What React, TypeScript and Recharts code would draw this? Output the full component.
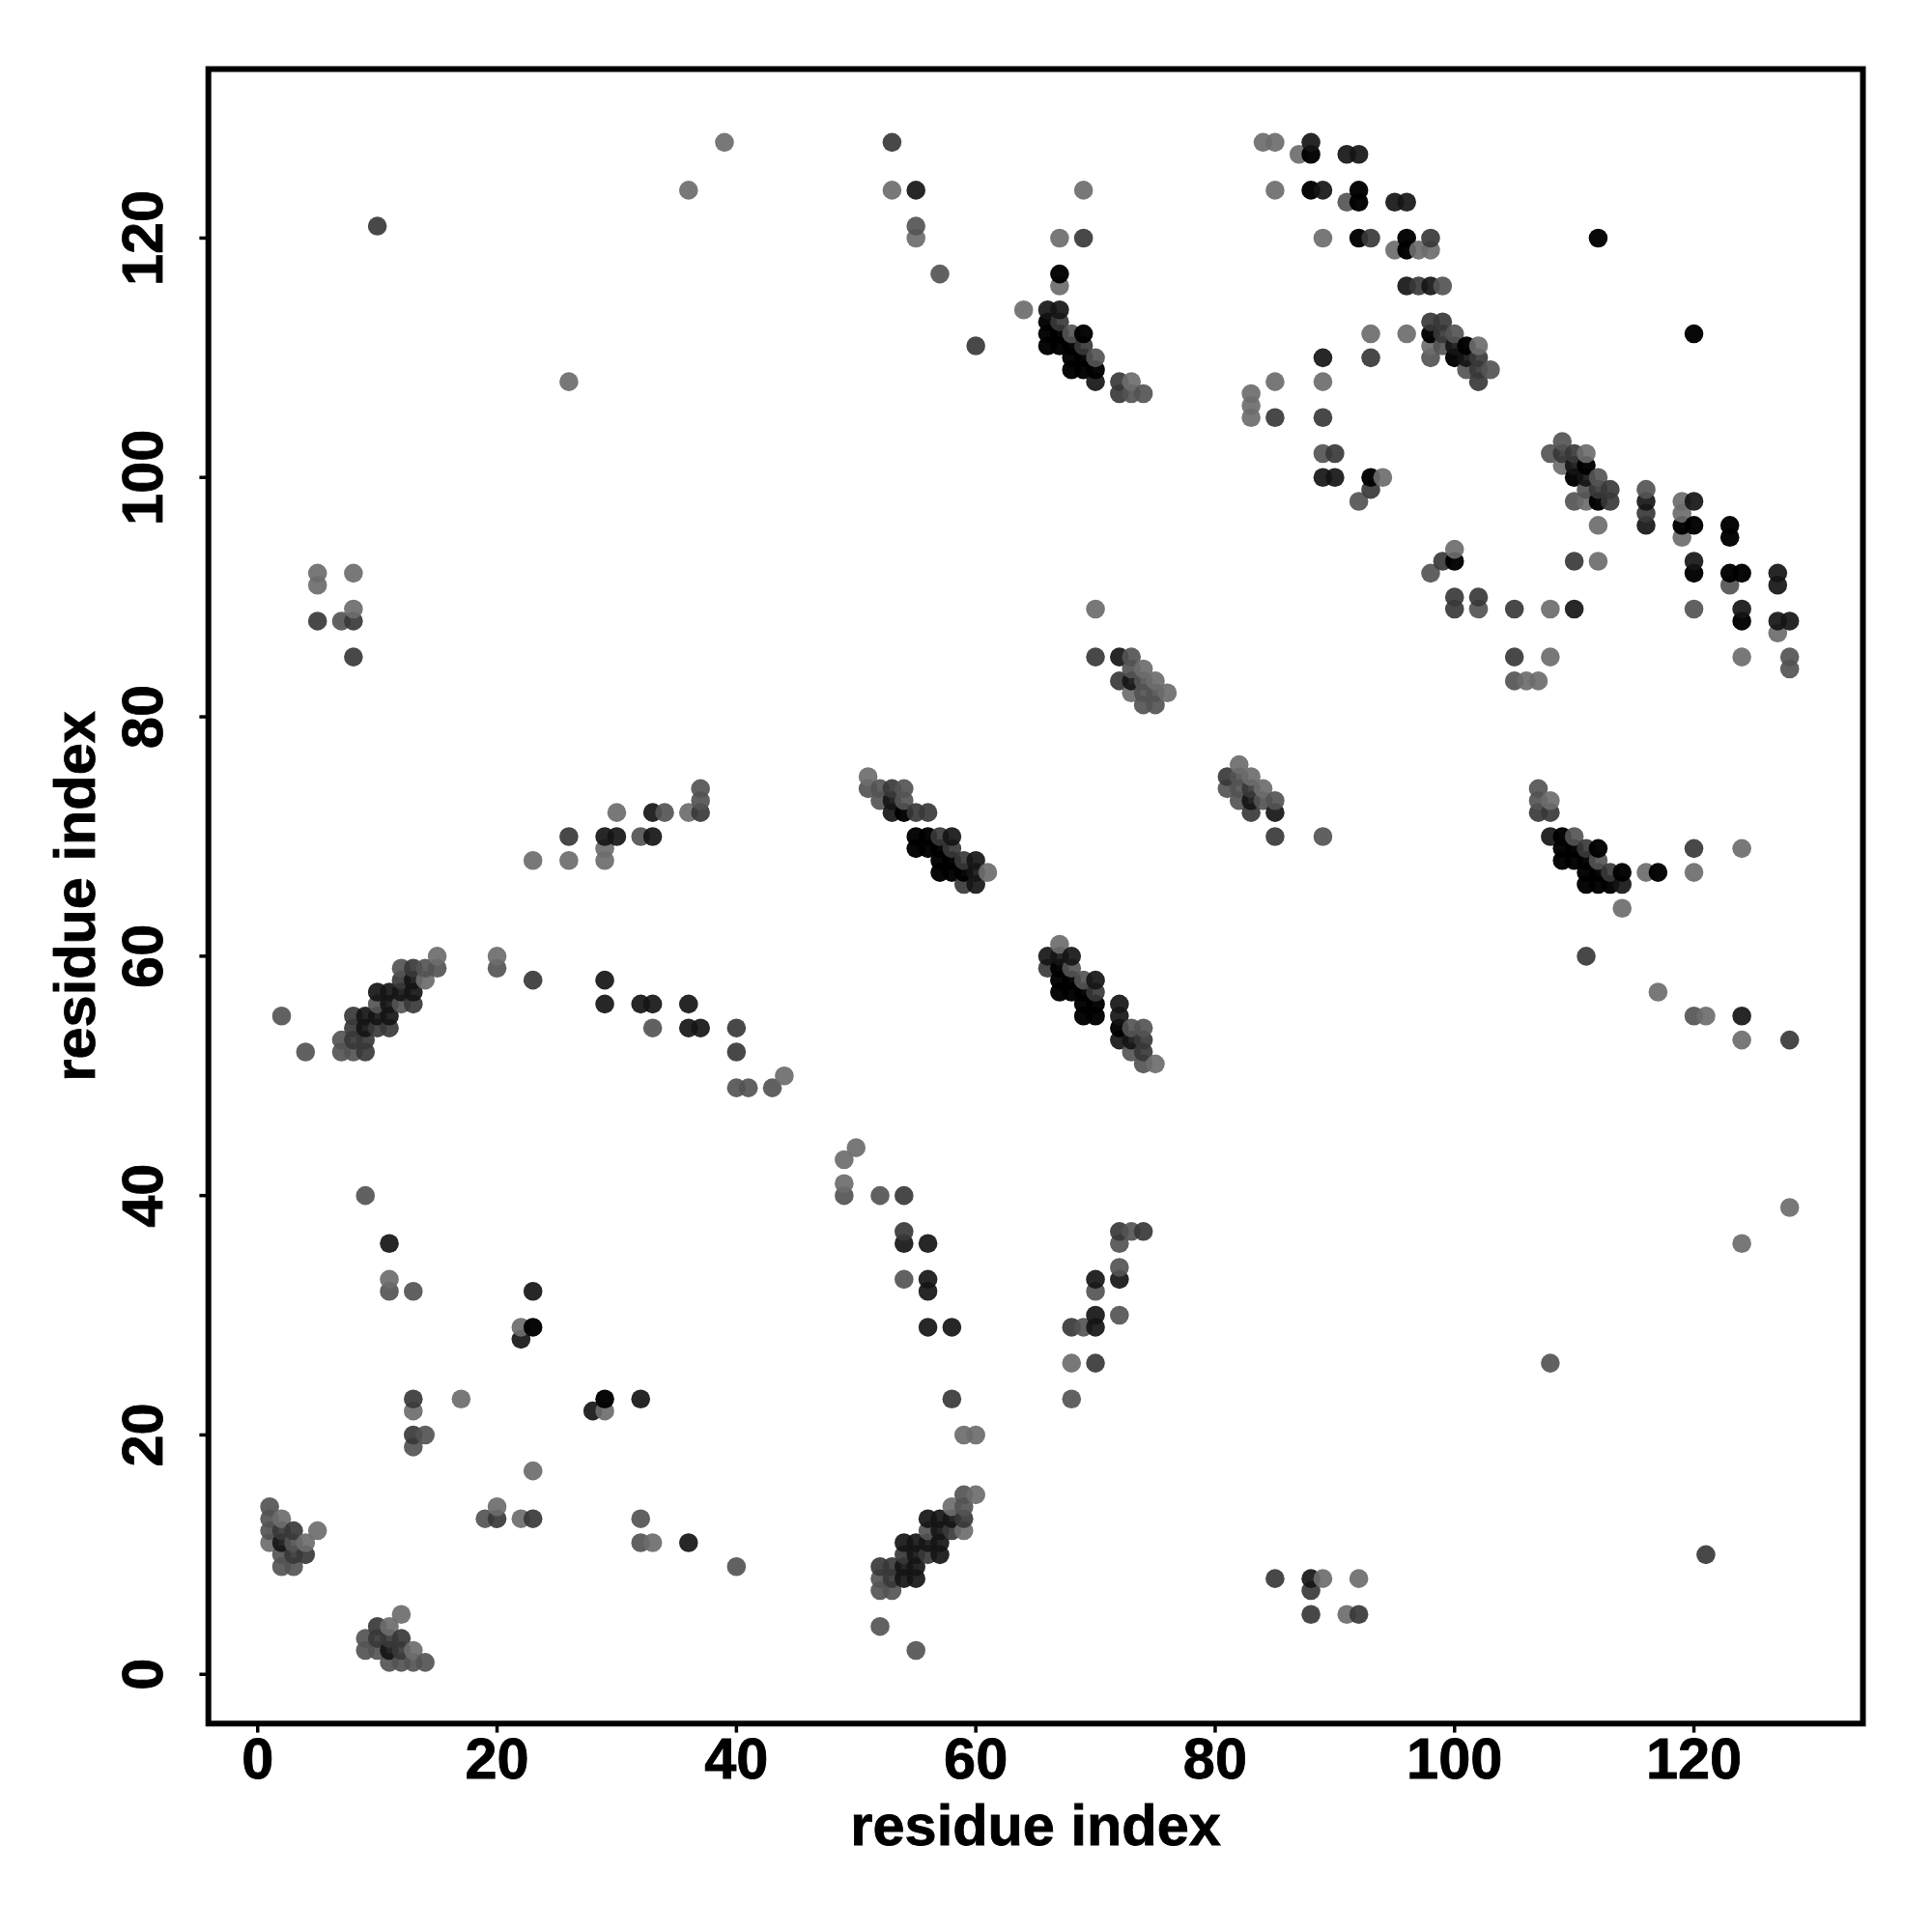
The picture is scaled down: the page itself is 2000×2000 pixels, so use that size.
import { ReferenceArea, Scatter, ScatterChart, XAxis, YAxis, ZAxis } from 'recharts';

type Pair = [number, number];

const axisTicks = [0, 20, 40, 60, 80, 100, 120];
const axisDomain: [number, number] = [-4.12, 134.12];
const axisTitle = 'residue index';
const font = '"Liberation Sans", Arial, sans-serif';

// contacts by how dark the dot is: [x residue, y residue]
const lightContacts: Pair[] = [
  [2, 13], [1, 11], [4, 11], [5, 12], [11, 4], [12, 5], [13, 2], [11, 33], [13, 22], [17, 23], [22, 29], [29, 22],
  [23, 17], [20, 14], [22, 13], [33, 11], [59, 20], [60, 20], [68, 26], [58, 14], [60, 15], [59, 12], [124, 36],
  [128, 39], [89, 8], [92, 8], [91, 5], [49, 43], [50, 44], [49, 41], [14, 58], [15, 60], [20, 60], [44, 50],
  [117, 57], [121, 55], [124, 53], [23, 68], [26, 68], [29, 69], [29, 68], [30, 72], [36, 72], [51, 75], [61, 67],
  [67, 116], [64, 114], [73, 108], [67, 61], [75, 51], [108, 73], [116, 67], [120, 67], [114, 64], [124, 69],
  [87, 127], [89, 120], [95, 119], [97, 119], [98, 119], [93, 112], [96, 112], [98, 111], [102, 111], [89, 108],
  [111, 102], [109, 101], [111, 98], [112, 96], [112, 93], [119, 98], [119, 97], [119, 95], [127, 87], [124, 85],
  [100, 94], [108, 89], [108, 85], [106, 83], [107, 83], [94, 100], [83, 107], [83, 106], [83, 105], [85, 108],
  [84, 128], [85, 128], [85, 124], [69, 124], [53, 124], [55, 120], [39, 128], [36, 124], [26, 108], [67, 120],
  [5, 92], [5, 91], [8, 92], [8, 89], [70, 89], [82, 76], [83, 75], [84, 74], [74, 84], [75, 83], [73, 82], [76, 82],
];
const midContacts: Pair[] = [
  [1, 14], [1, 13], [1, 12], [2, 10], [2, 9], [3, 11], [3, 9], [9, 3], [9, 2], [10, 2], [11, 1], [12, 1], [13, 1],
  [14, 1], [11, 32], [13, 32], [14, 20], [13, 19], [19, 13], [32, 13], [32, 11], [40, 9], [9, 40], [49, 40], [52, 40],
  [54, 33], [52, 4], [55, 2], [68, 23], [59, 15], [59, 14], [56, 12], [52, 8], [52, 7], [53, 7], [69, 29], [70, 32],
  [72, 34], [72, 36], [73, 37], [72, 30], [108, 26], [4, 52], [7, 53], [7, 52], [8, 52], [10, 56], [12, 56], [12, 59],
  [14, 59], [15, 59], [2, 55], [20, 59], [33, 54], [40, 49], [41, 49], [43, 49], [120, 55], [32, 70], [34, 72],
  [37, 73], [37, 74], [51, 74], [52, 74], [54, 74], [52, 73], [54, 73], [68, 112], [70, 110], [73, 107], [74, 107],
  [68, 59], [69, 58], [73, 54], [74, 54], [73, 52], [74, 51], [107, 74], [107, 73], [110, 70], [112, 68], [81, 74],
  [82, 75], [82, 74], [82, 73], [84, 73], [85, 73], [89, 70], [128, 85], [128, 84], [120, 89], [91, 123], [99, 116],
  [100, 112], [99, 111], [98, 110], [101, 109], [103, 109], [109, 103], [108, 102], [112, 100], [111, 99], [110, 98],
  [116, 99], [123, 91], [98, 92], [102, 89], [105, 83], [92, 98], [89, 102], [73, 85], [73, 84], [74, 83], [74, 82],
  [75, 82], [74, 81], [75, 81], [55, 121], [57, 117], [7, 88],
];
const darkContacts: Pair[] = [
  [2, 12], [3, 12], [3, 10], [4, 10], [10, 4], [10, 3], [11, 3], [12, 3], [12, 2], [13, 23], [13, 20], [20, 13],
  [23, 13], [121, 10], [85, 8], [88, 7], [88, 5], [92, 5], [54, 40], [54, 37], [58, 23], [70, 26], [58, 12], [56, 10],
  [54, 10], [53, 8], [53, 9], [52, 9], [59, 13], [68, 29], [72, 37], [74, 37], [8, 53], [9, 53], [9, 52], [8, 54],
  [8, 55], [10, 54], [11, 54], [13, 56], [12, 58], [13, 59], [23, 58], [40, 54], [40, 52], [111, 60], [128, 53],
  [26, 70], [37, 72], [53, 74], [55, 72], [56, 72], [57, 70], [58, 69], [59, 68], [59, 66], [67, 113], [69, 111],
  [72, 108], [72, 107], [66, 59], [70, 57], [74, 53], [74, 52], [107, 72], [108, 72], [111, 69], [113, 67], [120, 69],
  [81, 75], [83, 74], [83, 72], [85, 70], [98, 120], [93, 120], [97, 116], [98, 113], [99, 113], [99, 112], [93, 110],
  [102, 110], [102, 109], [102, 108], [109, 102], [110, 102], [112, 99], [113, 99], [113, 98], [116, 97], [110, 93],
  [99, 93], [100, 90], [100, 89], [102, 90], [105, 89], [105, 85], [90, 102], [89, 105], [93, 99], [85, 105],
  [53, 128], [10, 121], [60, 111], [69, 120], [5, 88], [8, 88], [8, 85], [70, 85], [72, 83],
];
const strongContacts: Pair[] = [
  [2, 11], [11, 2], [23, 32], [22, 28], [28, 22], [32, 23], [36, 11], [11, 36], [54, 36], [56, 36], [56, 33], [56, 32],
  [56, 29], [58, 29], [56, 13], [57, 13], [58, 13], [57, 12], [57, 11], [56, 11], [57, 10], [55, 11], [54, 11],
  [55, 10], [55, 9], [54, 9], [55, 8], [54, 8], [70, 29], [70, 30], [70, 33], [72, 33], [88, 8], [9, 54], [9, 55],
  [10, 55], [11, 55], [11, 56], [10, 57], [11, 57], [12, 57], [13, 57], [13, 58], [29, 58], [29, 56], [32, 56],
  [33, 56], [36, 56], [36, 54], [37, 54], [124, 55], [29, 70], [30, 70], [33, 70], [33, 72], [53, 73], [53, 72],
  [58, 70], [60, 68], [60, 67], [60, 66], [66, 114], [67, 114], [70, 108], [66, 60], [67, 60], [68, 60], [70, 58],
  [72, 56], [72, 55], [72, 53], [73, 53], [108, 70], [114, 66], [83, 73], [85, 72], [88, 128], [91, 127], [92, 127],
  [89, 124], [95, 123], [96, 123], [96, 116], [98, 116], [100, 111], [101, 110], [89, 110], [111, 100], [110, 101],
  [116, 98], [116, 96], [120, 98], [120, 93], [127, 92], [127, 91], [124, 89], [127, 88], [128, 88], [110, 89],
  [89, 100], [90, 100], [55, 124], [73, 83], [72, 85],
];
const blackContacts: Pair[] = [
  [23, 29], [29, 23], [72, 54], [54, 72], [55, 70], [56, 70], [55, 69], [56, 69], [57, 69], [57, 68], [58, 68],
  [57, 67], [58, 67], [59, 67], [66, 113], [66, 112], [67, 112], [66, 111], [67, 111], [68, 111], [68, 110], [69, 110],
  [68, 109], [69, 109], [70, 109], [67, 117], [69, 112], [67, 59], [67, 58], [68, 58], [67, 57], [68, 57], [69, 57],
  [69, 56], [70, 56], [69, 55], [70, 55], [109, 70], [109, 69], [110, 69], [112, 69], [109, 68], [110, 68], [111, 68],
  [111, 67], [112, 67], [114, 67], [111, 66], [112, 66], [113, 66], [117, 67], [88, 127], [88, 124], [92, 124],
  [92, 123], [92, 120], [96, 120], [96, 119], [98, 112], [101, 111], [100, 110], [111, 101], [110, 100], [112, 98],
  [119, 96], [120, 96], [120, 92], [123, 96], [123, 95], [123, 92], [124, 92], [124, 88], [112, 120], [120, 112],
  [100, 93], [93, 100],
];

const shades: [Pair[], string, number][] = [
  [lightContacts, '#6c6c6c', 0.92],
  [midContacts, '#545454', 0.92],
  [darkContacts, '#383838', 0.92],
  [strongContacts, '#151515', 0.92],
  [blackContacts, '#000000', 0.97],
];

// the dots overlap in residue order, so later ones sit on top
const contacts = shades
  .flatMap(([pairs, fill, alpha]) => pairs.map(([x, y]) => ({ x, y, fill, alpha })))
  .sort((a, b) => a.x - b.x || a.y - b.y);

const ContactDot = (props: any) => (
  <circle cx={props.cx} cy={props.cy} r={9.8} fill={props.payload.fill} fillOpacity={props.payload.alpha} />
);

const textStyle = {
  fontFamily: font,
  fontWeight: 700,
  fontSize: 59.5,
  fill: '#000',
  stroke: '#000',
  strokeWidth: 0.8,
};

const XTick = ({ x, y, payload }: any) => (
  <text x={x} y={y + 45} textAnchor="middle" style={textStyle}>
    {payload.value}
  </text>
);

const YTick = ({ x, y, payload }: any) => (
  <text transform={`translate(${x - 36} ${y}) rotate(-90)`} textAnchor="middle" style={textStyle}>
    {payload.value}
  </text>
);

const AxisTitleX = ({ viewBox }: any) => (
  <text x={viewBox.x + viewBox.width / 2} y={1910} textAnchor="middle" style={textStyle}>
    {axisTitle}
  </text>
);

const AxisTitleY = ({ viewBox }: any) => (
  <text
    transform={`translate(98 ${viewBox.y + viewBox.height / 2}) rotate(-90)`}
    textAnchor="middle"
    style={textStyle}
  >
    {axisTitle}
  </text>
);

export default function App() {
  return (
    <div style={{ position: 'absolute', left: 0, top: 0, width: 2000, height: 2000, background: '#fff' }}>
      <ScatterChart width={2000} height={2000} margin={{ top: 71.5, right: 71.5, bottom: 0, left: 0 }}>
        <XAxis
          type="number"
          dataKey="x"
          domain={axisDomain}
          ticks={axisTicks}
          interval={0}
          height={215.7}
          axisLine={false}
          tickSize={9.3}
          tickLine={{ stroke: '#000', strokeWidth: 3.5 }}
          tick={<XTick />}
          label={<AxisTitleX />}
        />
        <YAxis
          type="number"
          dataKey="y"
          domain={axisDomain}
          ticks={axisTicks}
          interval={0}
          width={215.7}
          axisLine={false}
          tickSize={9.3}
          tickLine={{ stroke: '#000', strokeWidth: 3.5 }}
          tick={<YTick />}
          label={<AxisTitleY />}
        />
        <ZAxis range={[64, 64]} />
        <ReferenceArea
          x1={axisDomain[0]}
          x2={axisDomain[1]}
          y1={axisDomain[0]}
          y2={axisDomain[1]}
          fill="none"
          stroke="#000"
          strokeWidth={6}
          ifOverflow="visible"
        />
        <Scatter data={contacts} shape={<ContactDot />} isAnimationActive={false} />
      </ScatterChart>
    </div>
  );
}
